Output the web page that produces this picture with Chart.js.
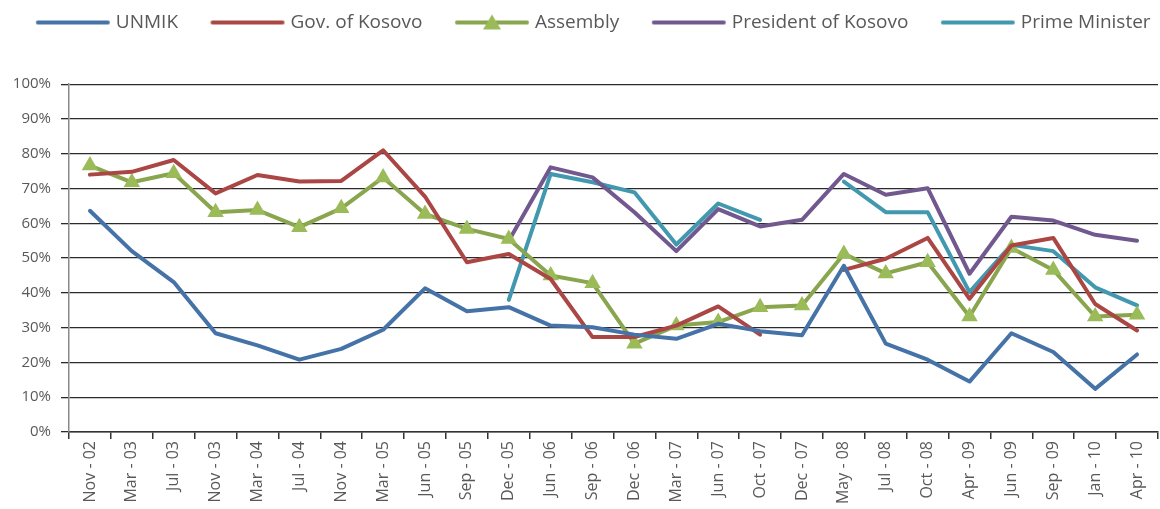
<!DOCTYPE html>
<html>
<head>
<meta charset="utf-8">
<script src="https://cdn.jsdelivr.net/npm/chart.js@4/dist/chart.umd.min.js"></script>
<style>
  html, body { margin: 0; padding: 0; background: #fff; }
  #wrap { width: 1160px; height: 509px; position: relative; }
</style>
</head>
<body>
<div id="wrap"><canvas id="trustChart"></canvas></div>
<script>
// Survey periods
const periods = ['Nov - 02', 'Mar - 03', 'Jul - 03', 'Nov - 03', 'Mar - 04', 'Jul - 04', 'Nov - 04',
    'Mar - 05', 'Jun - 05', 'Sep - 05', 'Dec - 05', 'Jun - 06', 'Sep - 06', 'Dec - 06', 'Mar - 07',
    'Jun - 07', 'Oct - 07', 'Dec - 07', 'May - 08', 'Jul - 08', 'Oct - 08', 'Apr - 09', 'Jun - 09',
    'Sep - 09', 'Jan - 10', 'Apr - 10'];

// Satisfaction (%) by institution
const unmik = [63.6, 52, 43.1, 28.4, 24.9, 20.8, 23.9, 29.4, 41.3, 34.7, 35.9, 30.6, 30.1, 28, 26.8,
    31.1, 29, 27.8, 47.8, 25.4, 20.8, 14.5, 28.4, 23, 12.4, 22.3];
const govKosovo = [74, 74.8, 78.2, 68.6, 73.9, 72, 72.2, 81, 67.7, 48.8, 51.2, 44, 27.3, 27.3, 30.6,
    36.1, 28, null, 46.6, 49.8, 55.8, 38.3, 53.6, 55.8, 36.8, 29.2];
const assembly = [76.6, 71.8, 74.4, 63.2, 63.8, 58.9, 64.3, 73.2, 62.7, 58.4, 55.5, 45, 42.8, 25.4, 30.6,
    31.6, 35.9, 36.4, 51.2, 45.6, 48.8, 33.2, 52.9, 46.6, 33.2, 33.7];
const president = [null, null, null, null, null, null, null, null, null, null, 55, 76.1, 73.2, 63.2, 52,
    64.1, 59.1, 61, 74.2, 68.2, 70.1, 45.5, 61.9, 60.8, 56.7, 55];
const primeMinister = [null, null, null, null, null, null, null, null, null, null, 38, 74.2, 71.8, 68.9, 53.9,
    65.7, 61, null, 72, 63.2, 63.2, 40.2, 53.8, 52, 41.6, 36.4];

const yTicks = [0, 10, 20, 30, 40, 50, 60, 70, 80, 90, 100];

const FONT = '"Open Sans", "Noto Sans", sans-serif';
const TEXT = '#595959';

// Legend box is wider than the drawn line so the items spread out like the original
const BOX_W = 99;
const ICON_W = 110;

// Legend icons: a short thick line, with a triangle for Assembly
function legendIcon(color, markerColor) {
    const c = document.createElement('canvas');
    c.width = ICON_W;
    c.height = 20;
    const ctx = c.getContext('2d');
    const end = ICON_W - 4;
    const start = end - 70;
    ctx.strokeStyle = color;
    ctx.lineWidth = 4;
    ctx.lineCap = 'round';
    ctx.beginPath();
    ctx.moveTo(start, 10);
    ctx.lineTo(end, 10);
    ctx.stroke();
    if (markerColor) {
        const mid = (start + end) / 2;
        ctx.fillStyle = markerColor;
        ctx.beginPath();
        ctx.moveTo(mid, 2);
        ctx.lineTo(mid + 9, 17);
        ctx.lineTo(mid - 9, 17);
        ctx.closePath();
        ctx.fill();
    }
    return c;
}

function makeLine(label, data, color, extra) {
    return Object.assign({
        label: label,
        data: data,
        borderColor: color,
        backgroundColor: color,
        borderWidth: 4,
        pointRadius: 0,
        pointHoverRadius: 0,
        tension: 0,
        spanGaps: false,
        borderJoinStyle: 'round',
        borderCapStyle: 'round'
    }, extra || {});
}

document.addEventListener('DOMContentLoaded', () => {
    const datasets = [
        makeLine('UNMIK', unmik, '#4572A7'),
        makeLine('Gov. of Kosovo', govKosovo, '#AA4643'),
        makeLine('Assembly', assembly, '#89A54E', {
            pointStyle: 'triangle',
            pointRadius: 9.5,
            pointBackgroundColor: '#9BBB59',
            pointBorderColor: '#9BBB59',
            pointBorderWidth: 0
        }),
        makeLine('President of Kosovo', president, '#71588F'),
        makeLine('Prime Minister', primeMinister, '#4198AF')
    ];
    const icons = [
        legendIcon('#4572A7'),
        legendIcon('#AA4643'),
        legendIcon('#89A54E', '#9BBB59'),
        legendIcon('#71588F'),
        legendIcon('#4198AF')
    ];

    new Chart(document.getElementById('trustChart'), {
        type: 'line',
        data: { labels: periods, datasets: datasets },
        options: {
            responsive: true,
            maintainAspectRatio: false,
            animation: false,
            layout: { autoPadding: false, padding: { left: 0, right: 2, top: 9, bottom: 0 } },
            plugins: {
                tooltip: { enabled: false },
                // empty spacer between the legend and the plot
                title: {
                    display: true,
                    text: '',
                    weight: 500,
                    font: { size: 1 },
                    padding: { top: 0, bottom: 41 }
                },
                legend: {
                    position: 'top',
                    labels: {
                        usePointStyle: true,
                        pointStyleWidth: BOX_W,
                        boxWidth: BOX_W,
                        boxHeight: 19,
                        padding: 4,
                        color: TEXT,
                        font: { family: FONT, size: 19 },
                        generateLabels: chart => chart.data.datasets.map((ds, i) => ({
                            text: ds.label,
                            pointStyle: icons[i],
                            fillStyle: ds.borderColor,
                            strokeStyle: ds.borderColor,
                            lineWidth: 0,
                            hidden: false,
                            datasetIndex: i,
                            fontColor: TEXT
                        }))
                    }
                }
            },
            scales: {
                x: {
                    offset: true,
                    grid: {
                        offset: true,
                        drawOnChartArea: false,
                        drawTicks: true,
                        tickLength: 7,
                        color: '#333',
                        lineWidth: 1.5
                    },
                    border: { color: '#333', width: 1.5 },
                    ticks: {
                        autoSkip: false,
                        maxRotation: 90,
                        minRotation: 90,
                        padding: 2,
                        color: TEXT,
                        font: { family: FONT, size: 16 }
                    },
                    afterFit: s => { s.height = 77; }
                },
                y: {
                    min: 0,
                    max: 100,
                    afterBuildTicks: s => { s.ticks = yTicks.map(v => ({ value: v })); },
                    grid: {
                        color: '#2b2b2b',
                        lineWidth: 1.3,
                        tickLength: 8
                    },
                    border: { color: '#8a8a8a', width: 1.5 },
                    ticks: {
                        padding: 10,
                        color: TEXT,
                        font: { family: FONT, size: 15 },
                        callback: v => v + '%'
                    },
                    afterFit: s => { s.width = 69; }
                }
            }
        }
    });
});
</script>
</body>
</html>
